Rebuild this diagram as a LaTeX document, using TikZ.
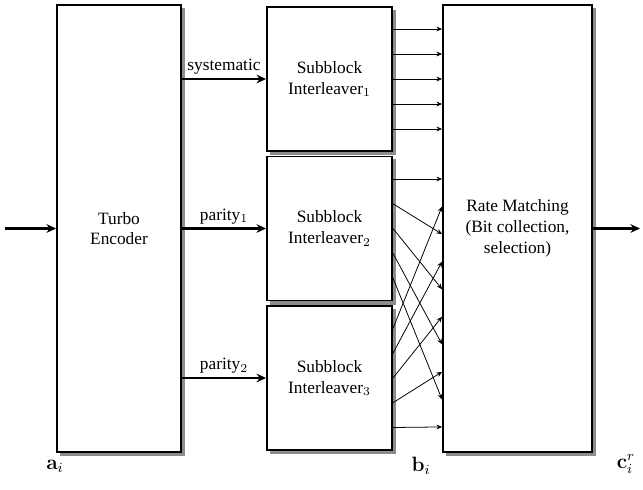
\documentclass[tikz,border=0pt]{standalone}
\usepackage[no-math]{fontspec}
\setmainfont{Liberation Serif}
\usetikzlibrary{arrows.meta,calc,backgrounds}
\def\px{0.578pt}
\begin{document}
\begin{tikzpicture}[x=0.578pt,y=-0.578pt,
  box/.style={draw=black, line width=1.1pt, fill=white, align=center, inner sep=0pt,
    font=\fontsize{10}{12}\selectfont},
  shadowfill/.style={fill=black!45},
  thickarrow/.style={line width=1.3pt, -{Stealth[length=5.5pt,width=5pt]}},
  thinarrow/.style={line width=0.45pt, -{Stealth[length=3.2pt,width=2.8pt]}},
  lbl/.style={font=\fontsize{10}{12}\selectfont, inner sep=2pt},
  sym/.style={font=\fontsize{12}{14}\selectfont, inner sep=0pt}]
\useasboundingbox (0,0) rectangle (643,490);

\node[box, minimum width=124*\px, minimum height=447*\px] (enc) at (119,228.5) {Turbo\\Encoder};
\node[box, minimum width=125*\px, minimum height=144*\px] (sb1) at (329.5,79) {Subblock\\Interleaver$_1$};
\node[box, minimum width=125*\px, minimum height=144*\px] (sb2) at (329.5,228.5) {Subblock\\Interleaver$_2$};
\node[box, minimum width=125*\px, minimum height=144*\px] (sb3) at (329.5,378) {Subblock\\Interleaver$_3$};
\node[box, minimum width=149*\px, minimum height=447*\px] (rm) at (517.5,228.5) {Rate Matching\\(Bit collection,\\selection)};

\begin{scope}[on background layer]
  \foreach \n in {enc,sb1,sb2,sb3,rm}
    \fill[shadowfill] ($(\n.south west)+(3.5,3.5)$) rectangle ($(\n.north east)+(3.5,3.5)$);
\end{scope}

\coordinate (in) at (5,228.5);
\coordinate (out) at (640,228.5);

\draw[thickarrow] (in) -- (enc.west);
\draw[thickarrow] (rm.east) -- (out);
\draw[thickarrow] (enc.east |- sb1.west) -- node[lbl, above] {systematic} (sb1.west);
\draw[thickarrow] (enc.east |- sb2.west) -- node[lbl, above] {parity$_1$} (sb2.west);
\draw[thickarrow] (enc.east |- sb3.west) -- node[lbl, above] {parity$_2$} (sb3.west);

% systematic: straight
\foreach \k in {-2,...,2}
  \draw[thinarrow] ($(sb1.east)+(0,25*\k)$) -- ($(rm.west |- sb1.east)+(0,25*\k)$);

% parity interleaving
\foreach \j in {0,...,4}{
  \draw[thinarrow] ($(sb2.east)+(0,{24.75*(\j-2)})$) -- ($(rm.west |- sb2.east)+(0,{179-228.5+27.55*2*\j})$);
  \draw[thinarrow] ($(sb3.east)+(0,{24.75*(\j-2)})$) -- ($(rm.west |- sb2.east)+(0,{179-228.5+27.55*(2*\j+1)})$);
}

\node[sym] (a) at (55,466) {$\mathbf{a}_i$};
\node[sym] (b) at (421,466) {$\mathbf{b}_i$};
\node[sym] (c) at (626,464) {$\mathbf{c}_i^r$};
\end{tikzpicture}
\end{document}
